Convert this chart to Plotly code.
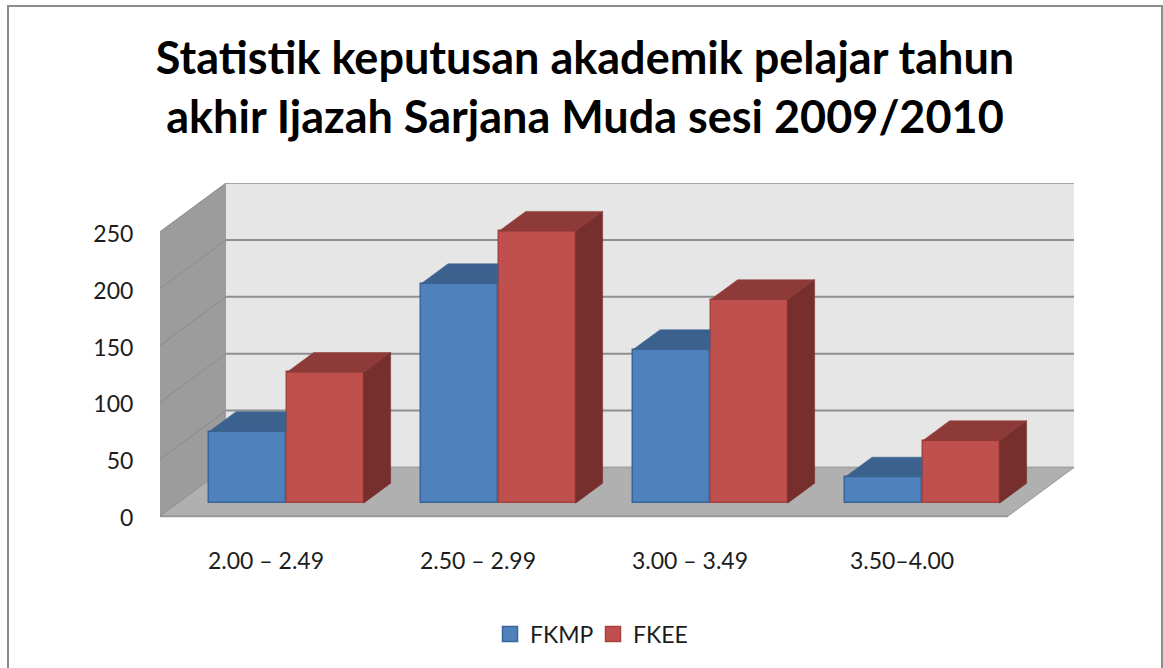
import plotly.graph_objects as go

categories = ["2.00 – 2.49", "2.50 – 2.99", "3.00 – 3.49", "3.50–4.00"]
fkmp = [63, 193, 135, 23]
fkee = [115, 239, 179, 55]
y_ticks = [0, 50, 100, 150, 200, 250]
TITLE = "Statistik keputusan akademik pelajar tahun<br>akhir Ijazah Sarjana Muda sesi 2009/2010"

W, H = 1163, 668
PX_L, PX_R, PX_T, PX_B = 160, 1074, 183, 541
PX_PER_X = 212.0
PX_PER_V = 1.144
XMIN = 0.5
XMAX = XMIN + (PX_R - PX_L) / PX_PER_X
VMIN = -(PX_B - 518) / PX_PER_V
VMAX = (518 - PX_T) / PX_PER_V

# depth vectors in data units
WALL_DX, WALL_DV = 66 / PX_PER_X, 49 / PX_PER_V
BAR_DX, BAR_DV = 27 / PX_PER_X, 20 / PX_PER_V
BAR_W = 77 / PX_PER_X
BASE = 13 / PX_PER_V
OFF_L, OFF_R = 0.913 - 1, 1.279 - 1

BLUE, BLUE_EDGE, BLUE_TOP = "#4f81bd", "#3a659b", "#3b628f"
RED, RED_EDGE, RED_TOP, RED_SIDE = "#c0504d", "#a5433f", "#8e3a38", "#772f2d"
xs = list(range(1, len(categories) + 1))
xmax_front = XMIN + len(categories)


def poly(pts, color, layer="below", line=None):
    path = "M" + " L".join(f"{x},{y}" for x, y in pts) + " Z"
    return dict(type="path", path=path, xref="x", yref="y", layer=layer,
                fillcolor=color, line=line or dict(width=0))


shapes = [
    dict(type="rect", xref="paper", yref="paper", layer="below",
         x0=(8 - PX_L) / (PX_R - PX_L), x1=(1162 - PX_L) / (PX_R - PX_L),
         y0=(PX_B - 680) / (PX_B - PX_T), y1=(PX_B - 5) / (PX_B - PX_T),
         line=dict(color="#8c8c8c", width=2), fillcolor="#ffffff"),
    poly([(XMIN + WALL_DX, 0 + WALL_DV), (XMAX, WALL_DV), (XMAX, 250 + WALL_DV), (XMIN + WALL_DX, 250 + WALL_DV)], "#e6e6e6"),
    poly([(XMIN, 0), (XMIN + WALL_DX, WALL_DV), (XMIN + WALL_DX, 250 + WALL_DV), (XMIN, 250)], "#9c9c9c"),
    poly([(XMIN, 0), (xmax_front, 0), (XMAX, WALL_DV), (XMIN + WALL_DX, WALL_DV)], "#b0b0b0"),
    dict(type="line", xref="x", yref="y", layer="below", x0=XMIN, x1=xmax_front, y0=0, y1=0,
         line=dict(color="#979797", width=2)),
    dict(type="line", xref="x", yref="y", layer="below", x0=xmax_front, x1=XMAX, y0=0, y1=WALL_DV,
         line=dict(color="#979797", width=1)),
]
for t in y_ticks:
    shapes.append(dict(type="line", xref="x", yref="y", layer="below",
                       x0=XMIN + WALL_DX, x1=XMAX, y0=t + WALL_DV, y1=t + WALL_DV,
                       line=dict(color="#8f8f8f" if 0 < t < 250 else "#a5a5a5", width=2)))
    shapes.append(dict(type="line", xref="x", yref="y", layer="below",
                       x0=XMIN, x1=XMIN + WALL_DX, y0=t, y1=t + WALL_DV,
                       line=dict(color="#8a8a8a", width=1)))

fig = go.Figure()
fig.add_bar(x=[x + OFF_L for x in xs], y=fkmp, base=BASE, width=BAR_W, name="FKMP", showlegend=False,
            marker=dict(color=BLUE, line=dict(color=BLUE_EDGE, width=1.5)))
fig.add_bar(x=[x + OFF_R for x in xs], y=fkee, base=BASE, width=BAR_W, name="FKEE", showlegend=False,
            marker=dict(color=RED, line=dict(color=RED_EDGE, width=1.5)))


def face(px, py, color):
    fig.add_trace(go.Scatter(x=px, y=py, mode="lines", fill="toself", fillcolor=color,
                             line=dict(color=color, width=0.5), hoverinfo="skip", showlegend=False))


for i, x in enumerate(xs):
    # FKMP top, clipped where the FKEE bar stands in front of it
    l = x + OFF_L - BAR_W / 2
    r = x + OFF_L + BAR_W / 2
    t = BASE + fkmp[i]
    face([l, l + BAR_DX, r, r, l], [t, t + BAR_DV, t + BAR_DV, t, t], BLUE_TOP)
    # FKEE top and side
    l = x + OFF_R - BAR_W / 2
    r = x + OFF_R + BAR_W / 2
    t = BASE + fkee[i]
    face([l, l + BAR_DX, r + BAR_DX, r, l], [t, t + BAR_DV, t + BAR_DV, t, t], RED_TOP)
    face([r, r + BAR_DX, r + BAR_DX, r, r], [BASE, BASE + BAR_DV, t + BAR_DV, t, BASE], RED_SIDE)

# legend keys with the reference's larger swatches
for name, col, edge in (("FKMP", BLUE, BLUE_EDGE), ("FKEE", RED, RED_EDGE)):
    fig.add_trace(go.Scatter(x=[None], y=[None], mode="markers", name=name,
                             marker=dict(symbol="square", size=15, color=col, line=dict(color=edge, width=1.5))))

fig.update_layout(
    width=W, height=H, autosize=False,
    margin=dict(l=PX_L, r=W - PX_R, t=PX_T, b=H - PX_B, pad=0),
    paper_bgcolor="#ffffff", plot_bgcolor="rgba(0,0,0,0)",
    barmode="overlay", bargap=0, shapes=shapes,
    font=dict(family="Lato", size=23, color="#1c1c1c"),
    title=dict(text=TITLE, font=dict(family="Lato", size=45, color="#000000", weight="bold"),
               x=585 / W, xanchor="center", y=1 - 74 / H, yanchor="middle"),
    xaxis=dict(range=[XMIN, XMAX], tickmode="array", tickvals=xs, ticktext=categories,
               showgrid=False, zeroline=False, showline=False, ticks="outside", ticklen=1,
               tickcolor="rgba(0,0,0,0)", fixedrange=True),
    yaxis=dict(range=[VMIN, VMAX], tickmode="array", tickvals=y_ticks, ticktext=[str(t) for t in y_ticks],
               showgrid=False, zeroline=False, showline=False, ticks="outside", ticklen=21,
               tickcolor="rgba(0,0,0,0)", fixedrange=True, ticklabelshift=2),
    legend=dict(orientation="h", x=(490 - PX_L) / (PX_R - PX_L), xanchor="left",
                y=(PX_B - 615) / (PX_B - PX_T), yanchor="top", font=dict(size=23),
                bgcolor="rgba(0,0,0,0)", traceorder="normal",
                entrywidth=58, entrywidthmode="pixels"),
)
fig.write_html("out.html", config={"displayModeBar": False}, post_script="document.body.style.margin='0';")
